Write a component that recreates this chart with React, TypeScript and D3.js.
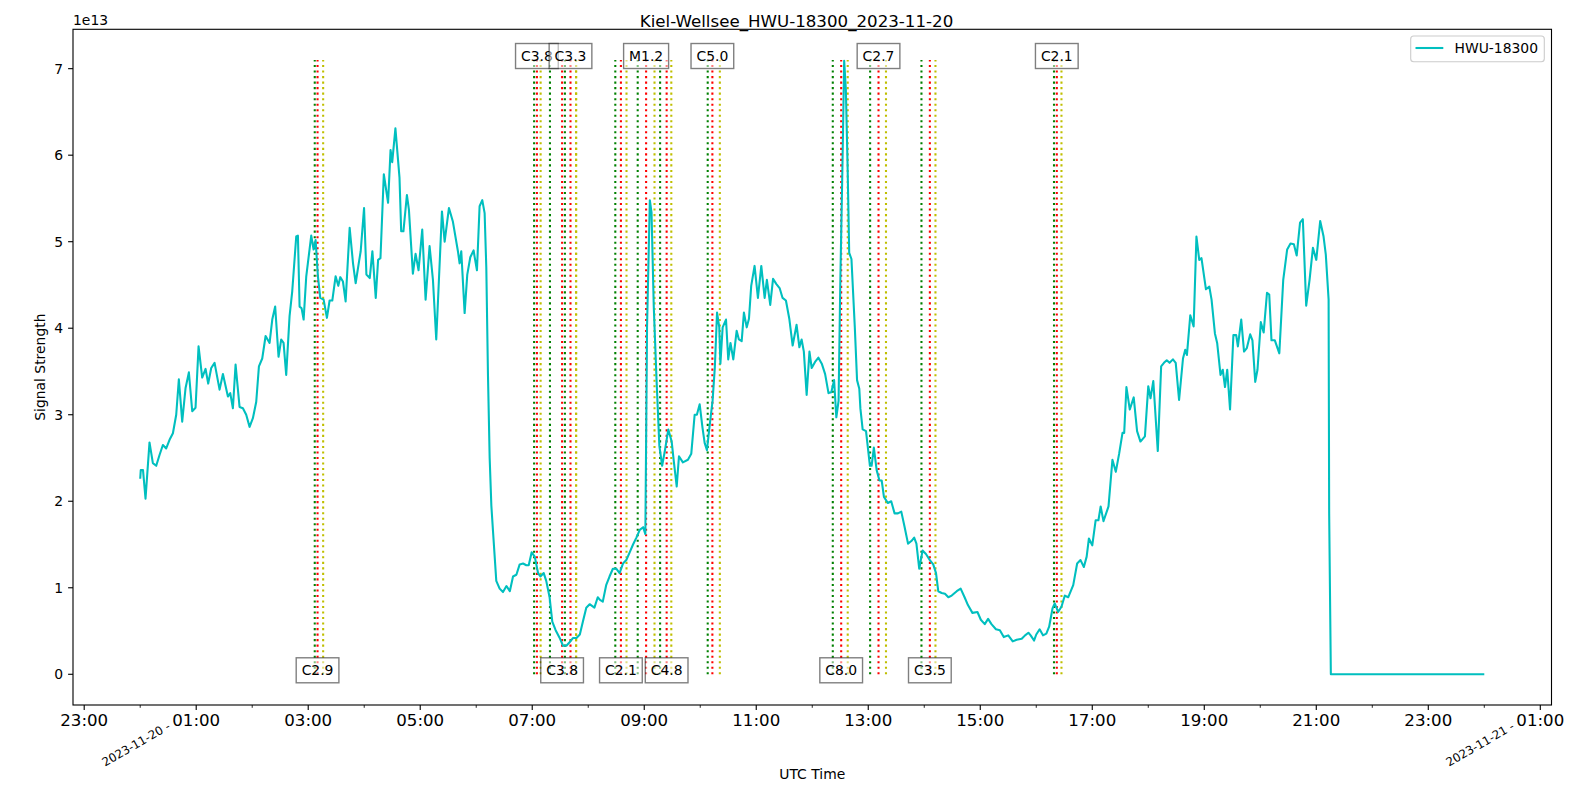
import React, { useEffect } from "react";
import * as d3 from "d3";

// ---- data (hours since 2023-11-20 00:00 UTC, signal in units of 1e13) ----
const hours = [
  0.0, 0.01, 0.05, 0.095, 0.166, 0.226, 0.286, 0.345, 0.405, 0.464, 0.524, 0.584, 0.643, 0.69, 0.75, 0.81,
  0.869, 0.929, 0.988, 1.042, 1.107, 1.167, 1.214, 1.268, 1.328, 1.417, 1.477, 1.566, 1.608, 1.655, 1.703,
  1.774, 1.834, 1.893, 1.953, 2.012, 2.072, 2.12, 2.179, 2.239, 2.31, 2.358, 2.41, 2.47, 2.518, 2.56, 2.607,
  2.667, 2.715, 2.786, 2.816, 2.846, 2.882, 2.918, 2.965, 3.054, 3.096, 3.132, 3.173, 3.215, 3.275, 3.334,
  3.382, 3.43, 3.489, 3.537, 3.572, 3.62, 3.668, 3.74, 3.8, 3.847, 3.907, 3.937, 3.997, 4.039, 4.099, 4.146,
  4.206, 4.248, 4.29, 4.35, 4.426, 4.47, 4.5, 4.557, 4.63, 4.66, 4.7, 4.762, 4.798, 4.869, 4.917, 4.97, 5.036,
  5.096, 5.167, 5.227, 5.286, 5.334, 5.388, 5.436, 5.513, 5.584, 5.673, 5.703, 5.733, 5.793, 5.84, 5.894,
  5.953, 5.97, 6.013, 6.06, 6.108, 6.15, 6.18, 6.21, 6.24, 6.27, 6.3,
  6.358, 6.418, 6.478, 6.54, 6.6, 6.657, 6.717, 6.776, 6.836, 6.895, 6.937, 6.99, 7.045, 7.104, 7.146, 7.205,
  7.25, 7.31, 7.358, 7.418, 7.49, 7.55, 7.61, 7.667, 7.73, 7.79, 7.85, 7.905, 7.965, 8.025, 8.11, 8.17, 8.21,
  8.26, 8.32, 8.38, 8.44, 8.5, 8.56, 8.62, 8.68, 8.74, 8.8, 8.86, 8.92, 8.98, 9.02, 9.05, 9.1, 9.13, 9.17,
  9.22, 9.27, 9.32, 9.37, 9.43, 9.49, 9.53, 9.58, 9.62, 9.69, 9.78, 9.84, 9.9, 9.94, 9.99, 10.04, 10.08,
  10.12, 10.16, 10.22, 10.26, 10.3, 10.34, 10.36, 10.4, 10.46, 10.5, 10.54, 10.59, 10.65, 10.69, 10.74,
  10.78, 10.83, 10.87, 10.91, 10.97, 11.03, 11.09, 11.15, 11.19, 11.25, 11.3, 11.36, 11.42, 11.47, 11.53,
  11.59, 11.65, 11.72, 11.77, 11.81, 11.85, 11.9, 11.95, 11.99, 12.05, 12.11, 12.17, 12.23, 12.29, 12.34,
  12.39, 12.43, 12.47, 12.5, 12.54, 12.57, 12.6, 12.63, 12.66, 12.7, 12.76, 12.8, 12.84, 12.86, 12.9, 12.96,
  13.03, 13.06, 13.1, 13.15, 13.2, 13.24, 13.28, 13.35, 13.41, 13.47, 13.53, 13.59, 13.65, 13.71, 13.77,
  13.82, 13.86, 13.91, 13.97, 14.03, 14.1, 14.16, 14.21, 14.25, 14.31, 14.37, 14.43, 14.49, 14.58, 14.65,
  14.72, 14.78, 14.86, 14.95, 15.01, 15.08, 15.14, 15.2, 15.28, 15.35, 15.42, 15.5, 15.58, 15.65, 15.74,
  15.8, 15.86, 15.9, 15.96, 16.0, 16.06, 16.12, 16.18, 16.23, 16.29, 16.33, 16.39, 16.45, 16.51, 16.57,
  16.66, 16.73, 16.79, 16.85, 16.9, 16.94, 17.0, 17.06, 17.11, 17.15, 17.2, 17.29, 17.36, 17.42, 17.48,
  17.54, 17.57, 17.61, 17.67, 17.74, 17.8, 17.86, 17.94, 18.0, 18.04, 18.09, 18.17, 18.23, 18.28, 18.33,
  18.38, 18.44, 18.49, 18.55, 18.62, 18.66, 18.69, 18.75, 18.81, 18.86, 18.91, 18.95, 19.03, 19.09, 19.13,
  19.19, 19.23, 19.29, 19.33, 19.37, 19.41, 19.46, 19.52, 19.57, 19.6, 19.66, 19.71, 19.76, 19.82, 19.86,
  19.91, 19.95, 20.01, 20.06, 20.12, 20.16, 20.2, 20.26, 20.34, 20.41, 20.48, 20.54, 20.6, 20.65, 20.71,
  20.76, 20.82, 20.88, 20.94, 21.0, 21.07, 21.13, 21.17, 21.22, 21.23, 21.26, 24.0,
];

const signal = [
  2.26, 2.36, 2.36, 2.03, 2.68, 2.44, 2.41, 2.535, 2.65, 2.61, 2.71, 2.786, 3.0, 3.41, 2.92, 3.31,
  3.49, 3.04, 3.08, 3.79, 3.43, 3.53, 3.36, 3.54, 3.6, 3.29, 3.47, 3.21, 3.25, 3.075, 3.58,
  3.09, 3.075, 3.0, 2.86, 2.96, 3.15, 3.56, 3.65, 3.91, 3.83, 4.1, 4.25, 3.67, 3.87, 3.83, 3.46,
  4.14, 4.43, 5.06, 5.07, 4.25, 4.23, 4.1, 4.6, 5.07, 4.91, 5.02, 4.6, 4.35, 4.33, 4.12,
  4.32, 4.32, 4.6, 4.49, 4.59, 4.54, 4.31, 5.16, 4.75, 4.52, 4.77, 4.89, 5.39, 4.62, 4.58, 4.89,
  4.35, 4.79, 4.81, 5.78, 5.45, 6.06, 5.92, 6.31, 5.74, 5.12, 5.12, 5.54, 5.37, 4.63, 4.86, 4.67, 5.14,
  4.33, 4.95, 4.56, 3.87, 4.56, 5.35, 5.0, 5.39, 5.23, 4.89, 4.75, 4.89, 4.175, 4.62, 4.82,
  4.9, 4.83, 4.67, 5.41, 5.48, 5.33, 4.7, 3.45, 2.5, 1.95, 1.65,
  1.08, 0.99, 0.95, 1.02, 0.96, 1.13, 1.15, 1.27, 1.28, 1.26, 1.26, 1.41, 1.36, 1.17, 1.13, 1.17,
  1.08, 0.89, 0.61, 0.51, 0.42, 0.33, 0.33, 0.37, 0.42, 0.42, 0.46, 0.61, 0.77, 0.81, 0.77, 0.89, 0.86,
  0.84, 1.03, 1.13, 1.22, 1.22, 1.17, 1.28, 1.32, 1.41, 1.5, 1.58, 1.67, 1.7, 1.62, 4.01, 5.48, 5.34, 4.25,
  3.4, 2.64, 2.41, 2.59, 2.83, 2.69, 2.45, 2.17, 2.52, 2.45, 2.48, 2.55, 3.0, 3.0, 3.12, 2.85, 2.67,
  2.59, 2.83, 3.16, 3.54, 4.18, 4.01, 3.59, 4.01, 4.1, 3.64, 3.83, 3.64, 3.97, 3.87, 3.85,
  4.18, 4.01, 4.11, 4.49, 4.72, 4.35, 4.72, 4.35, 4.56, 4.27, 4.57, 4.51, 4.46, 4.35, 4.32,
  4.11, 3.8, 4.04, 3.78, 3.87, 3.73, 3.23, 3.73, 3.54, 3.61, 3.66, 3.59, 3.47, 3.25, 3.26,
  3.4, 2.97, 3.16, 4.49, 5.91, 7.09, 6.76, 5.91, 4.87, 4.8, 4.01, 3.4, 3.3, 3.07, 2.83, 2.81,
  2.41, 2.41, 2.62, 2.36, 2.24, 2.24, 2.05, 1.98, 2.0, 1.86, 1.86, 1.88, 1.7, 1.51, 1.54,
  1.58, 1.51, 1.22, 1.43, 1.39, 1.32, 1.27, 1.17, 0.96, 0.94, 0.93, 0.89, 0.91, 0.96, 0.99,
  0.89, 0.8, 0.71, 0.72, 0.63, 0.58, 0.64, 0.58, 0.52, 0.51, 0.43, 0.45, 0.38, 0.4, 0.41,
  0.45, 0.48, 0.45, 0.39, 0.46, 0.52, 0.45, 0.47, 0.55, 0.76, 0.82, 0.72, 0.78, 0.91, 0.89,
  1.03, 1.28, 1.32, 1.24, 1.36, 1.57, 1.49, 1.78, 1.78, 1.94, 1.77, 1.94, 2.48, 2.34, 2.55,
  2.79, 2.79, 3.32, 3.06, 3.2, 2.81, 2.69, 2.75, 3.33, 3.19, 3.39, 2.58, 3.56, 3.6, 3.63,
  3.6, 3.64, 3.6, 3.17, 3.65, 3.75, 3.69, 4.15, 4.02, 5.06, 4.79, 4.81, 4.45, 4.48, 4.33,
  3.94, 3.83, 3.46, 3.52, 3.32, 3.52, 3.06, 3.92, 3.92, 3.79, 4.1, 3.73, 3.77, 3.93, 3.86,
  3.38, 3.52, 4.07, 3.95, 4.41, 4.39, 3.86, 3.86, 3.71, 4.56, 4.91, 4.98, 4.97, 4.84, 5.22,
  5.26, 4.26, 4.56, 4.93, 4.79, 5.24, 5.06, 4.85, 4.33, 1.86, 0.0, 0.0,
];

// ---- flares ----
const flareClass = ["C2.9", "C3.8", "C3.8", "C3.3", "C2.1", "M1.2", "C4.8", "C5.0", "C8.0", "C2.7", "C3.5", "C2.1"];
const flareStart = ["03:07", "07:02", "07:19", "07:35", "08:29", "08:53", "09:17", "10:08", "12:22", "13:02", "13:57", "16:19"];
const flarePeak = ["03:10", "07:05", "07:32", "07:41", "08:35", "09:02", "09:24", "10:13", "12:31", "13:11", "14:06", "16:22"];
const flareEnd = ["03:16", "07:09", "07:47", "07:47", "08:41", "09:11", "09:29", "10:21", "12:38", "13:19", "14:12", "16:27"];

const yTicks = [0, 1, 2, 3, 4, 5, 6, 7];
const xMajor = [-1, 1, 3, 5, 7, 9, 11, 13, 15, 17, 19, 21, 23, 25];
const xMinor = [0, 2, 4, 6, 8, 10, 12, 14, 16, 18, 20, 22, 24];
const dateLabels = [
  { h: 0, text: "2023-11-20 -" },
  { h: 24, text: "2023-11-21 -" },
];

const title = "Kiel-Wellsee_HWU-18300_2023-11-20";
const seriesName = "HWU-18300";

const W = 1593;
const H = 792;
const FONT = "DejaVu Sans, sans-serif";

const parseHM = (s: string) => {
  const [a, b] = s.split(":").map(Number);
  return a + b / 60;
};

const charW: Record<string, number> = { C: 0.698, M: 0.863, ".": 0.318 };
const textWidth = (s: string, fs: number) =>
  s.split("").reduce((acc, c) => acc + (charW[c] ?? 0.636), 0) * fs;

export default function App() {
  useEffect(() => {
    document.body.style.margin = "0";
  }, []);

  const left = 73, right = 1551.5, top = 29.3, bottom = 705;
  const x = d3.scaleLinear().domain([-1.2, 25.2]).range([left, right]);
  const y = d3.scaleLinear().domain([-0.355, 7.455]).range([bottom, top]);

  const path = d3
    .line<number>()
    .x((_, i) => x(hours[i]))
    .y((d) => y(d))(signal) as string;

  const vTop = 7.1;
  const lineColors = ["#008000", "#ff0000", "#bfbf00"];
  const fmtHour = (h: number) => String(((h % 24) + 24) % 24).padStart(2, "0") + ":00";

  return (
    <svg width={W} height={H} style={{ display: "block", background: "#fff" }} fontFamily={FONT}>
      <rect x={0} y={0} width={W} height={H} fill="#fff" />
      {/* flare lines */}
      {flareClass.map((c, i) => {
        const ts = [parseHM(flareStart[i]), parseHM(flarePeak[i]), parseHM(flareEnd[i])];
        return ts.map((t, j) => (
          <line
            key={`${i}-${j}`}
            x1={x(t)}
            x2={x(t)}
            y1={y(0)}
            y2={y(vTop)}
            stroke={lineColors[j]}
            strokeWidth={2.08}
            strokeDasharray="2.08 3.44"
          />
        ));
      })}
      {/* data line */}
      <path d={path} fill="none" stroke="#00bfbf" strokeWidth={2.08} strokeLinejoin="round" />
      {/* flare labels */}
      {flareClass.map((c, i) => {
        const px = x(parseHM(flarePeak[i]));
        const isTop = i % 2 === 1;
        const cy = (isTop ? y(vTop) : y(0)) - 4;
        const fs = 13.9;
        const bw = textWidth(c, fs) + 10.9;
        const bh = 25;
        return (
          <g key={`lab-${i}`}>
            <rect
              x={px - bw / 2}
              y={cy - bh / 2}
              width={bw}
              height={bh}
              fill="#fff"
              fillOpacity={0.5}
              stroke="#000"
              strokeOpacity={0.5}
              strokeWidth={1.39}
            />
            <text x={px} y={cy + 4.8} textAnchor="middle" fontSize={fs} fill="#000">
              {c}
            </text>
          </g>
        );
      })}
      {/* axes frame */}
      <rect x={left} y={top} width={right - left} height={bottom - top} fill="none" stroke="#000" strokeWidth={1.11} />
      {/* y ticks */}
      {yTicks.map((t) => (
        <g key={`y${t}`}>
          <line x1={left - 4.9} x2={left} y1={y(t)} y2={y(t)} stroke="#000" strokeWidth={1.11} />
          <text x={left - 9.8} y={y(t) + 5} textAnchor="end" fontSize={13.9} fill="#000">
            {t}
          </text>
        </g>
      ))}
      <text x={73} y={25} fontSize={13.9} fill="#000">
        1e13
      </text>
      {/* x ticks */}
      {xMajor.map((h) => (
        <g key={`xM${h}`}>
          <line x1={x(h)} x2={x(h)} y1={bottom} y2={bottom + 4.9} stroke="#000" strokeWidth={1.11} />
          <text x={x(h)} y={725.5} textAnchor="middle" fontSize={16.67} fill="#000">
            {fmtHour(h)}
          </text>
        </g>
      ))}
      {xMinor.map((h) => (
        <line key={`xm${h}`} x1={x(h)} x2={x(h)} y1={bottom} y2={bottom + 2.8} stroke="#000" strokeWidth={0.84} />
      ))}
      {dateLabels.map((d) => {
        const ax = x(d.h) + 31;
        const ay = 728.5;
        return (
          <text
            key={d.text}
            x={ax}
            y={ay}
            textAnchor="end"
            fontSize={11.8}
            fill="#000"
            transform={`rotate(-30 ${ax} ${ay})`}
          >
            {d.text}
          </text>
        );
      })}
      {/* axis labels */}
      <text x={(left + right) / 2} y={778.5} textAnchor="middle" fontSize={13.9} fill="#000">
        UTC Time
      </text>
      <text
        x={45}
        y={(top + bottom) / 2}
        textAnchor="middle"
        fontSize={13.9}
        fill="#000"
        transform={`rotate(-90 45 ${(top + bottom) / 2})`}
      >
        Signal Strength
      </text>
      {/* title */}
      <text x={796.5} y={27.4} textAnchor="middle" fontSize={16.67} fill="#000">
        {title}
      </text>
      {/* legend */}
      <rect x={1410.7} y={36} width={133.6} height={25.7} rx={3} fill="#fff" fillOpacity={0.8} stroke="#cccccc" strokeWidth={1.1} />
      <line x1={1415.5} x2={1443.3} y1={48} y2={48} stroke="#00bfbf" strokeWidth={2.08} />
      <text x={1454.5} y={53} fontSize={13.9} fill="#000">
        {seriesName}
      </text>
    </svg>
  );
}
